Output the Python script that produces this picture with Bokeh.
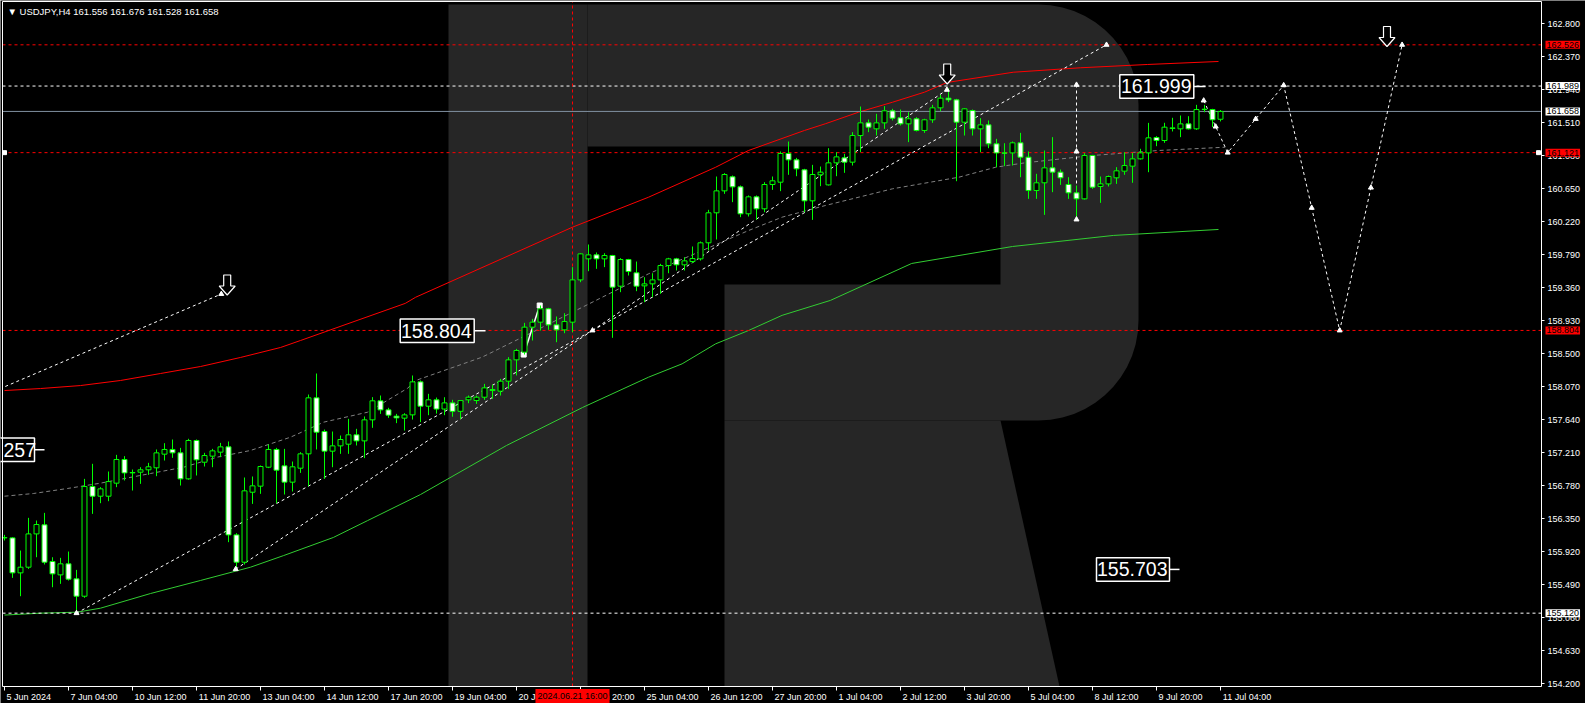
import numpy as np
from bokeh.plotting import figure
from bokeh.models import FixedTicker, PrintfTickFormatter, Label, Range1d, LinearAxis
from bokeh.embed import file_html
from bokeh.resources import INLINE
from bokeh.core.properties import value

# ---------------- data ----------------
opens = [156.101,156.101,155.645,155.719,156.153,156.271,155.793,155.619,155.763,155.567,
         155.341,156.770,156.644,156.644,156.814,157.122,156.953,156.957,156.988,157.014,
         157.192,157.253,157.209,156.870,157.370,157.087,157.166,157.218,157.287,156.140,
         155.784,156.696,156.775,157.022,157.253,157.040,156.827,157.009,157.196,157.926,
         157.487,157.231,157.300,157.322,157.444,157.365,157.639,157.887,157.769,157.687,
         157.661,157.704,158.134,157.817,157.900,157.780,157.860,157.750,157.900,157.891,
         157.934,158.021,158.013,158.143,158.421,158.521,158.847,158.912,159.086,158.877,
         158.812,158.912,159.463,159.737,159.789,159.737,159.781,159.381,159.728,159.555,
         159.385,159.411,159.463,159.650,159.737,159.659,159.702,159.737,159.946,160.337,
         160.623,160.806,160.675,160.324,160.545,160.389,160.706,160.736,161.110,161.027,
         160.897,160.493,160.832,160.701,160.988,161.053,160.997,161.344,161.509,161.431,
         161.509,161.666,161.575,161.496,161.562,161.410,161.549,161.705,161.831,161.809,
         161.518,161.670,161.431,161.483,161.236,161.118,161.118,161.249,161.062,160.628,
         160.728,160.923,160.867,160.706,160.597,160.519,161.084,160.680,160.714,160.793,
         160.880,160.945,161.040,161.118,161.318,161.279,161.436,161.431,161.496,161.431,
         161.683,161.683,161.556]
highs = [156.140,156.110,155.936,156.362,156.327,156.427,155.849,155.841,155.923,155.684,
         156.870,157.066,156.762,156.966,157.183,157.166,156.992,157.022,157.079,157.253,
         157.335,157.383,157.274,157.392,157.383,157.209,157.261,157.339,157.357,156.162,
         156.888,156.901,157.044,157.318,157.274,157.261,157.096,157.218,157.969,158.243,
         157.513,157.487,157.435,157.652,157.522,157.683,157.935,157.956,157.796,157.717,
         157.726,158.217,158.152,157.978,157.930,157.934,157.900,157.880,157.956,157.956,
         158.108,158.099,158.173,158.456,158.564,158.903,158.955,159.129,159.099,158.986,
         159.029,159.629,159.811,159.924,159.820,159.811,159.789,159.746,159.737,159.702,
         159.498,159.550,159.672,159.750,159.750,159.759,159.898,159.963,160.376,160.810,
         160.854,160.823,160.693,160.563,160.563,160.736,160.810,161.136,161.266,161.053,
         160.910,160.962,160.940,161.179,161.127,161.105,161.388,161.722,161.553,161.627,
         161.727,161.692,161.683,161.648,161.583,161.562,161.744,161.874,161.961,161.822,
         161.701,161.683,161.570,161.540,161.301,161.244,161.266,161.379,161.136,160.845,
         161.149,161.323,160.901,160.801,160.693,161.114,161.092,160.810,160.823,160.932,
         161.127,161.118,161.171,161.509,161.336,161.510,161.575,161.605,161.596,161.744,
         161.744,161.692,161.676]
lows = [156.067,155.580,155.341,155.697,155.849,155.754,155.458,155.502,155.545,155.120,
        155.320,156.414,156.553,156.579,156.762,156.849,156.718,156.805,156.922,156.905,
        157.109,157.144,156.783,156.860,156.914,157.031,157.022,157.153,156.045,155.684,
        155.754,156.544,156.675,157.010,156.553,156.666,156.705,156.948,156.775,157.253,
        156.870,157.022,157.196,157.196,157.305,157.140,157.535,157.717,157.665,157.596,
        157.500,157.643,157.609,157.700,157.720,157.700,157.680,157.650,157.856,157.847,
        157.900,157.913,157.956,158.043,158.217,158.490,158.673,158.803,158.812,158.651,
        158.768,158.781,159.433,159.576,159.607,159.629,158.708,159.303,159.520,159.316,
        159.172,159.238,159.281,159.550,159.585,159.585,159.681,159.715,159.846,159.989,
        160.584,160.476,160.280,160.289,160.245,160.345,160.636,160.619,160.832,160.814,
        160.345,160.245,160.684,160.693,160.814,160.858,160.953,161.127,161.388,161.344,
        161.431,161.540,161.475,161.258,161.397,161.379,161.509,161.661,161.779,160.749,
        161.344,161.344,161.127,161.179,160.932,160.945,160.953,160.801,160.519,160.519,
        160.310,160.606,160.701,160.519,160.250,160.510,160.649,160.467,160.680,160.714,
        160.832,160.728,161.032,160.866,161.205,161.249,161.397,161.323,161.423,161.418,
        161.648,161.453,161.528]
closes = [156.105,155.645,155.719,156.153,156.275,155.784,155.632,155.763,155.563,155.341,
          156.770,156.644,156.740,156.835,157.122,156.948,156.948,156.988,157.027,157.209,
          157.253,157.209,156.870,157.370,157.118,157.174,157.235,157.287,156.140,155.784,
          156.714,156.779,157.031,157.253,156.983,156.827,157.027,157.196,157.926,157.478,
          157.231,157.300,157.383,157.444,157.365,157.639,157.887,157.769,157.700,157.665,
          157.704,158.134,157.817,157.900,157.780,157.860,157.750,157.890,157.934,157.934,
          158.056,158.034,158.143,158.421,158.543,158.847,158.912,159.086,158.877,158.812,
          158.920,159.463,159.802,159.789,159.737,159.781,159.368,159.728,159.572,159.381,
          159.411,159.463,159.650,159.737,159.659,159.711,159.741,159.946,160.337,160.623,
          160.836,160.675,160.324,160.545,160.389,160.706,160.754,161.110,161.027,160.910,
          160.493,160.836,160.867,160.988,161.066,160.997,161.344,161.509,161.453,161.509,
          161.666,161.570,161.496,161.562,161.410,161.549,161.705,161.831,161.809,161.518,
          161.692,161.431,161.483,161.236,161.118,161.114,161.249,161.062,160.628,160.728,
          160.923,160.867,160.793,160.597,160.519,161.084,160.671,160.714,160.810,160.884,
          160.953,161.040,161.118,161.314,161.279,161.453,161.444,161.496,161.431,161.683,
          161.687,161.549,161.658]

time_tick_bars = [0, 8, 16, 24, 32, 40, 48, 56, 64, 72, 80, 88, 96, 104, 112, 120, 128, 136, 144, 152]
time_tick_labels = ["5 Jun 2024", "7 Jun 04:00", "10 Jun 12:00", "11 Jun 20:00", "13 Jun 04:00",
                    "14 Jun 12:00", "17 Jun 20:00", "19 Jun 04:00", "20 Jun 12:00", "21 Jun 20:00",
                    "25 Jun 04:00", "26 Jun 12:00", "27 Jun 20:00", "1 Jul 04:00", "2 Jul 12:00",
                    "3 Jul 20:00", "5 Jul 04:00", "8 Jul 12:00", "9 Jul 20:00", "11 Jul 04:00"]
price_ticks = [154.200, 154.630, 155.060, 155.490, 155.920, 156.350, 156.780, 157.210, 157.640,
               158.070, 158.500, 158.930, 159.360, 159.790, 160.220, 160.650, 161.080, 161.510,
               161.940, 162.370, 162.800]

red_ma_bars = [0, 4.5, 9.5, 14.5, 19.5, 24.5, 29.5, 34.5, 37, 50.1, 51.4, 71, 80.5, 88.9, 93, 100,
               102.6, 106.75, 111, 115, 117.8, 126.1, 134.5, 142.9, 151.75]
red_ma_vals = [158.021, 158.047, 158.086, 158.152, 158.243, 158.334, 158.452, 158.582, 158.673,
               159.157, 159.237, 160.150, 160.540, 160.931, 161.149, 161.410, 161.497, 161.648,
               161.778, 161.909, 162.035, 162.169, 162.227, 162.270, 162.309]
green_ma_bars = [0, 4.5, 9.1, 12, 18.25, 24.5, 30.75, 34.9, 41.1, 45.4, 52, 62.75, 72.25, 80.5,
                 84.7, 88.9, 93, 97.2, 103.25, 113.4, 126, 138.6, 151.75]
green_ma_vals = [155.095, 155.120, 155.133, 155.185, 155.376, 155.546, 155.719, 155.871, 156.106,
                 156.327, 156.666, 157.305, 157.800, 158.195, 158.369, 158.630, 158.803, 159.001,
                 159.196, 159.677, 159.898, 160.042, 160.120]
gray_ma_bars = [0, 3.6, 7.9, 12, 18.25, 22.4, 26.6, 30.75, 35.75, 39.9, 45.4, 50.4, 51.4, 59.7,
                66, 71, 76.4, 80.5, 93, 97.2, 102.6, 111, 119.3, 123.9, 127.6, 136, 144.25, 152.6]
gray_ma_vals = [156.644, 156.679, 156.745, 156.814, 156.940, 157.022, 157.153, 157.240, 157.413,
                157.609, 157.739, 158.052, 158.152, 158.456, 158.781, 159.042, 159.325, 159.542,
                160.106, 160.280, 160.432, 160.650, 160.801, 160.931, 160.989, 161.084, 161.149,
                161.192]

red_levels = [162.526, 161.121, 158.804]
white_levels = [161.989, 155.120]
bid_price = 161.658
marked_bar = 71
marked_time = "2024.06.21 16:00"
header = "\u25BC USDJPY,H4  161.556 161.676 161.528 161.658"

trend_lines = [
    ((0.1, 158.074), (27.1, 159.279)),
    ((9, 155.120), (73.5, 158.804)),
    ((28.9, 155.693), (73.5, 158.804)),
    ((73.5, 158.804), (117.8, 161.940)),
    ((73.5, 158.804), (137.75, 162.526)),
]
trend_marks_x = [27.1, 9, 28.9, 73.5, 117.8, 137.75]
trend_marks_y = [159.279, 155.120, 155.693, 158.804, 161.940, 162.526]
vert_bar = 134
vert_prices = [160.250, 161.136, 162.005]
forecast_bars = [149.9, 152.9, 159.9, 166.9, 174.7]
forecast_prices = [161.800, 161.121, 161.999, 158.804, 162.526]
boxed_text = ["257", "158.804", "161.999", "155.703"]
boxed_prices = [157.249, 158.800, 161.983, 155.690]

# ---------------- geometry helpers (reference-pixel to data) ----------------
PX_BAR = 8.0
PX_UNIT = 76.74
def bx(px):
    return (px - 4.0) / PX_BAR
def py(pyv):
    return 162.8 - (pyv - 23.3) / PX_UNIT

def arc(cx, cy, r, a0, a1, n=14):
    t = np.radians(np.linspace(a0, a1, n))
    return [(cx + r * np.cos(a), cy - r * np.sin(a)) for a in t]

def to_data(pts):
    return [bx(q[0]) for q in pts], [py(q[1]) for q in pts]

ADV = {c: 0.556 for c in "0123456789"}
ADV.update({" ": 0.278, ":": 0.278, ".": 0.278, "J": 0.5, "u": 0.556, "n": 0.556, "l": 0.222})
def text_px(s, size):
    return sum(ADV.get(c, 0.55) for c in s) * size

# ---------------- figure ----------------
W, H = 1585, 703
L, R, T, B = 2, 1541, 1, 686        # plot frame edges
p = figure(width=W, height=H, output_backend="svg", toolbar_location=None,
           x_range=Range1d(bx(0), bx(W)), y_range=Range1d(py(H), py(0)),
           x_axis_location=None, y_axis_location=None, min_border=0,
           background_fill_color="black", border_fill_color="black", outline_line_color=None)
for g in p.grid:
    g.visible = False

# logo watermark
logo_col = "#262626"
stem = [(448, 4), (587, 4), (587, B), (448, B)]
bowl = ([(587, 4)] + arc(1038, 104, 100, 90, 0) + arc(1038, 320, 100, 0, -90) +
        [(724, 420), (724, 284), (1000, 284), (1000, 146), (587, 146)])
leg = [(724, 420), (1000, 420), (1059, B), (724, B)]
for poly in (stem, bowl, leg):
    xs, ys = to_data(poly)
    p.patch(xs, ys, fill_color=logo_col, line_color=None)

n = len(opens)
idx = list(range(n))
bull = [c >= o for o, c in zip(opens, closes)]

# moving averages
p.line(red_ma_bars, red_ma_vals, line_color="#ff0000", line_width=1)
p.line(green_ma_bars, green_ma_vals, line_color="#32cd32", line_width=1)
p.line(gray_ma_bars, gray_ma_vals, line_color="#808080", line_width=1, line_dash="4 3")

# horizontal levels
xl, xr = bx(L), bx(R)
for lv in red_levels:
    p.line([xl, xr], [lv, lv], line_color="#ff0000", line_dash="3 3", line_width=1)
for lv in white_levels:
    p.line([xl, xr], [lv, lv], line_color="white", line_dash="3 3", line_width=1)
p.line([xl, xr], [bid_price, bid_price], line_color="#8090a0", line_width=1)
p.line([marked_bar, marked_bar], [py(B), py(T)], line_color="#ff0000", line_dash="3 3")

# trend lines
for (a, b) in trend_lines:
    p.line([a[0], b[0]], [a[1], b[1]], line_color="white", line_dash="3 3", line_width=1)
p.line([vert_bar, vert_bar], [vert_prices[0], vert_prices[-1]], line_color="white", line_dash="3 3")
p.line(forecast_bars, forecast_prices, line_color="white", line_dash="3 3")
p.line([64.9, 66.9], [lows[65], highs[67]], line_color="white", line_width=1.5)
p.scatter([64.9, 66.9], [lows[65], highs[67]], marker="square", size=5, fill_color="white", line_color="white")

# candles
p.segment(idx, highs, idx, lows, line_color="#00ff00", line_width=1)
p.vbar(x=idx, top=[max(o, c) for o, c in zip(opens, closes)],
       bottom=[min(o, c) for o, c in zip(opens, closes)], width=0.62,
       fill_color=["black" if b else "white" for b in bull], line_color="#00ff00", line_width=1)

# markers
mid_x = [(forecast_bars[i] + forecast_bars[i + 1]) / 2 for i in range(len(forecast_bars) - 1)]
mid_y = [(forecast_prices[i] + forecast_prices[i + 1]) / 2 for i in range(len(forecast_prices) - 1)]
mx = trend_marks_x + [vert_bar] * 3 + forecast_bars + mid_x
my = trend_marks_y + vert_prices + forecast_prices + mid_y
p.scatter(mx, my, marker="triangle", size=5, fill_color="white", line_color="white")
p.scatter([bx(4), bx(1538)], [red_levels[1]] * 2, marker="square", size=4,
          fill_color="white", line_color="white")

# hollow down arrows
def down_arrow(tx, ty):
    pts = [(-3.5, -20), (3.5, -20), (3.5, -9), (8, -9), (0, 0), (-8, -9), (-3.5, -9)]
    return [bx(tx + a) for a, b in pts], [py(ty + b) for a, b in pts]
for tip in [(226.7, 294.5), (946.7, 83.5), (1386.5, 46.0)]:
    xs, ys = down_arrow(*tip)
    p.patch(xs, ys, fill_color="black", line_color="white", line_width=1.2)

# boxed price labels
box_cx = [bx(-4), bx(436.7), bx(1156.3), bx(1132.5)]
box_w = [76, 74, 74, 73]
text_x = [bx(3), bx(471), bx(1191), bx(1167)]
text_al = ["left", "right", "right", "right"]
line_from = [bx(34), bx(474), bx(1193.3), bx(1169)]
line_to = [bx(44), bx(485), bx(1205), bx(1179)]
for i in range(4):
    p.line([line_from[i], line_to[i]], [boxed_prices[i]] * 2, line_color="white", line_width=1.5)
p.rect(x=box_cx, y=boxed_prices, width=box_w, height=[23.5] * 4, width_units="screen",
       height_units="screen", fill_color="black", line_color="white", line_width=1.5)
for i in range(4):
    p.text(x=[text_x[i]], y=[boxed_prices[i]], text=[boxed_text[i]], text_color="white",
           text_font=value("Liberation Sans"), text_font_size="19.5px",
           text_align=text_al[i], text_baseline="middle")

# frame border
p.line([bx(L), bx(R), bx(R), bx(L), bx(L)], [py(T), py(T), py(B), py(B), py(T)],
       line_color="white", line_width=1)

# axes placed at the frame edges
yax = LinearAxis(fixed_location=bx(R), ticker=FixedTicker(ticks=price_ticks),
                 formatter=PrintfTickFormatter(format="%.3f"))
tick_ax = LinearAxis(fixed_location=py(B), ticker=FixedTicker(ticks=time_tick_bars))
label_pos = [round(b + (2 + text_px(s, 9) / 2) / PX_BAR, 3) for b, s in zip(time_tick_bars, time_tick_labels)]
lab_ax = LinearAxis(fixed_location=py(B), ticker=FixedTicker(ticks=label_pos),
                    major_label_overrides={k: s for k, s in zip(label_pos, time_tick_labels)})
for ax in (yax, tick_ax, lab_ax):
    ax.axis_line_color = None
    ax.major_tick_line_color = "white"
    ax.minor_tick_line_color = None
    ax.major_tick_in = 0
    ax.major_label_text_color = "white"
    ax.major_label_text_font = "Liberation Sans"
    ax.major_label_text_font_size = "9px"
yax.major_tick_out = 3
yax.major_label_standoff = 3
tick_ax.major_tick_out = 4
tick_ax.major_label_text_color = None
lab_ax.major_tick_line_color = None
lab_ax.major_tick_out = 4
lab_ax.major_label_standoff = 1
p.add_layout(yax, "right")
p.add_layout(tick_ax, "below")
p.add_layout(lab_ax, "below")

# axis value tags
tags = [(162.526, "#ff0000"), (161.989, "white"), (161.658, "white"),
        (161.121, "#ff0000"), (158.804, "#ff0000"), (155.120, "white")]
for v, bg in tags:
    p.add_layout(Label(x=bx(1545), y=v, text=f"{v:.3f}", text_color="black", text_font="Liberation Sans",
                       text_font_size="9px", text_baseline="middle", text_align="left",
                       background_fill_color=bg, padding=1))
p.add_layout(Label(x=marked_bar, y=py(695.5), text=marked_time, text_color="black",
                   text_font="Liberation Sans", text_font_size="9px", text_baseline="middle",
                   text_align="center", background_fill_color="#ff0000", padding=2))
p.add_layout(Label(x=bx(7), y=py(10.5), text=header, text_color="white",
                   text_font="Liberation Sans", text_font_size="9.5px", text_baseline="middle",
                   text_align="left"))

open("out.html", "w").write(file_html(p, INLINE))
